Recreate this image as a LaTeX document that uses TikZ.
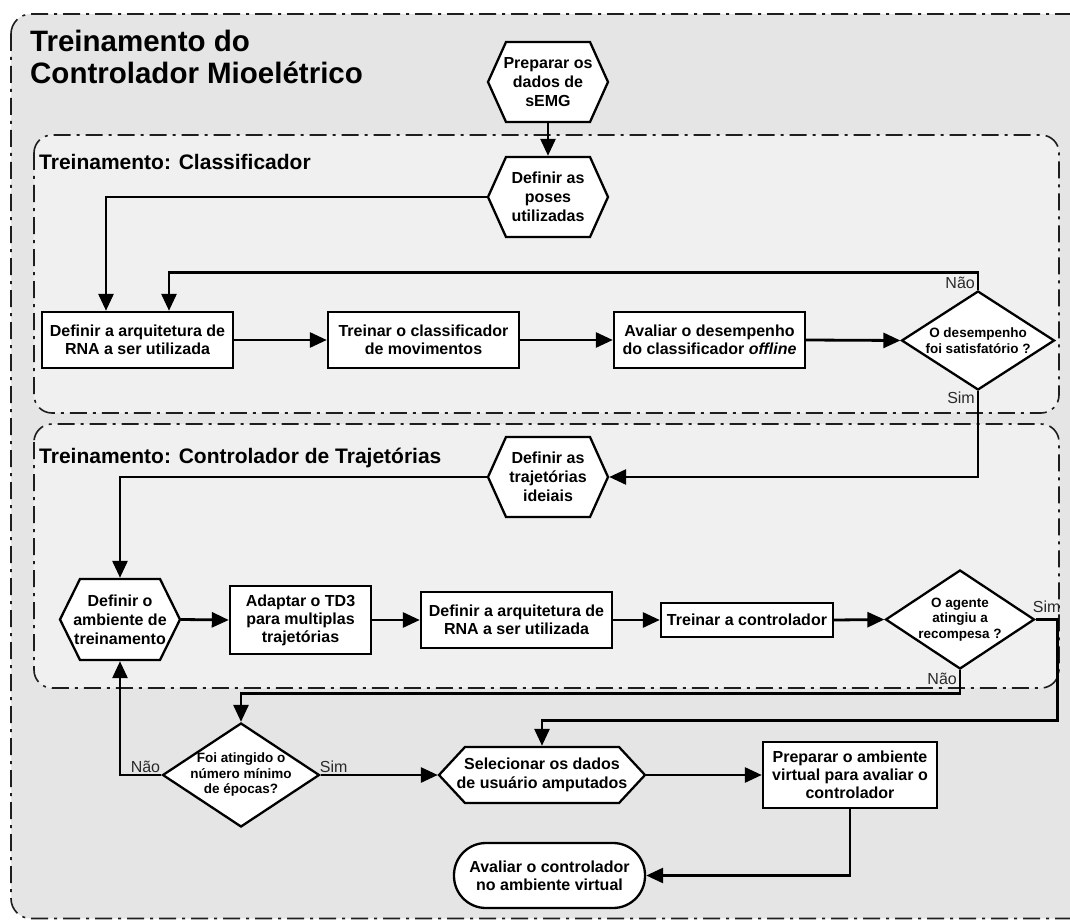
\documentclass[tikz,border=0pt]{standalone}
\usepackage{fontspec}
\setmainfont{Liberation Sans}
\usetikzlibrary{arrows.meta,shapes.geometric}

\definecolor{outerfill}{HTML}{E5E5E5}
\definecolor{innerfill}{HTML}{F0F0F0}
\definecolor{frameline}{HTML}{1E1E1E}
\definecolor{labelgray}{HTML}{2A2A2A}

% hexagonal step: name, centre x, centre y, half width, half height, slant, text
\newcommand\hexstep[7]{%
  \filldraw[hexline] ({#2-#4},{#3}) -- ({#2-#4+#6},{#3-#5}) -- ({#2+#4-#6},{#3-#5})
    -- ({#2+#4},{#3}) -- ({#2+#4-#6},{#3+#5}) -- ({#2-#4+#6},{#3+#5}) -- cycle;
  \node[hextext, minimum width={2*#4}, minimum height={2*#5}] (#1) at (#2,#3) {#7};%
}

\begin{document}
\begin{tikzpicture}[x=1pt,y=-1pt,
  section/.style={draw=frameline, line width=1.6pt,
    dash pattern=on 17pt off 6pt on 3pt off 6pt},
  stepbox/.style={draw=black, line width=2.3pt, fill=white, inner sep=0pt,
    outer sep=1.2pt, align=center, font=\fontsize{16}{18}\selectfont\bfseries},
  hexline/.style={draw=black, line width=2.3pt, fill=white, line join=miter},
  hextext/.style={inner sep=0pt, outer sep=1.2pt, align=center,
    font=\fontsize{16}{19}\selectfont\bfseries},
  decision/.style={shape=diamond, draw=black, line width=2.3pt, fill=white,
    inner sep=0pt, minimum width=153pt, minimum height=99pt},
  diatext/.style={align=center, inner sep=0pt,
    font=\fontsize{13.5}{15.5}\selectfont\bfseries},
  terminal/.style={stepbox, rounded corners=32pt},
  arr/.style={line width=2.8pt, -{Triangle[length=17pt,width=15pt]}},
  lbl/.style={inner sep=1pt, text=labelgray, font=\fontsize{16}{18}\selectfont},
  bigtitle/.style={inner sep=0pt, font=\fontsize{29.5}{32}\selectfont\bfseries},
  sectitle/.style={inner sep=0pt, font=\fontsize{21}{24}\selectfont\bfseries}]

\useasboundingbox (0,0) rectangle (1070,920);
\clip (0,0) rectangle (1070,920);
\fill[white] (0,0) rectangle (1070,920);

% group frames
\filldraw[section, fill=outerfill, rounded corners=20pt] (11,14) rectangle (1100,918.5);
\filldraw[section, fill=innerfill, rounded corners=18pt] (34,135) rectangle (1059,413);
\filldraw[section, fill=innerfill, rounded corners=18pt] (34,424) rectangle (1059,688);

% titles
\node[bigtitle, anchor=base west] (title1) at (30,52) {Treinamento do};
\node[bigtitle, anchor=base west] (title2) at (30,83.5) {Controlador Mioelétrico};
\node[sectitle, anchor=base west] (secA) at (39,170) {Treinamento: Classificador};
\node[sectitle, anchor=base west] (secB) at (39,463) {Treinamento: Controlador de Trajetórias};

% classifier stage
\hexstep{hexPrep}{548}{82}{60}{40}{18}{Preparar os\\dados de\\sEMG}
\hexstep{hexPoses}{548}{197}{60}{40}{18}{Definir as\\poses\\utilizadas}
\node[stepbox, minimum width=191pt, minimum height=56pt] (box1) at (137.5,340)
  {Definir a arquitetura de\\RNA a ser utilizada};
\node[stepbox, minimum width=191pt, minimum height=56pt] (box2) at (423.5,340)
  {Treinar o classificador\\de movimentos};
\node[stepbox, minimum width=191pt, minimum height=56pt] (box3) at (709.5,340)
  {Avaliar o desempenho\\do classificador \textit{offline}};
\node[decision, label={[diatext]center:{O desempenho\\foi satisfatório ?}}] (dia1) at (978,340.5) {};

% trajectory controller stage
\hexstep{hexTraj}{548}{477}{60}{40}{18}{Definir as\\trajetórias\\ideiais}
\hexstep{hexEnv}{120}{619.5}{60}{40.5}{20}{Definir o\\ambiente de\\treinamento}
\node[stepbox, minimum width=141pt, minimum height=68pt] (box4) at (300.5,620)
  {Adaptar o TD3\\para multiplas\\trajetórias};
\node[stepbox, minimum width=191pt, minimum height=56pt] (box5) at (516.5,620)
  {Definir a arquitetura de\\RNA a ser utilizada};
\node[stepbox, minimum width=172pt, minimum height=34pt] (box6) at (747,620)
  {Treinar a controlador};
\node[decision, minimum width=149pt, label={[diatext]center:{O agente\\atingiu a\\recompesa ?}}] (dia2) at (960,619.5) {};

% evaluation stage
\node[decision, minimum width=157pt, minimum height=104pt,
  label={[diatext]center:{Foi atingido o\\número mínimo\\de épocas?}}] (dia3) at (241,775) {};
\hexstep{hexUser}{542}{775}{103}{28}{26}{Selecionar os dados\\de usuário amputados}
\node[stepbox, minimum width=174pt, minimum height=66pt] (box7) at (850,775)
  {Preparar o ambiente\\virtual para avaliar o\\controlador};
\node[terminal, minimum width=191pt, minimum height=65pt] (term) at (549.5,875.5)
  {Avaliar o controlador\\no ambiente virtual};

% connectors
\draw[arr] (hexPrep.south) -- (hexPoses.north);
\draw[arr] (hexPoses.west) -| ([xshift=-31.5pt]box1.north);
\draw[arr] (box1.east) -- (box2.west);
\draw[arr] (box2.east) -- (box3.west);
\draw[arr] (box3.east) -- (dia1.west);
\draw[arr] (dia1.north) -- ++(0,-17.5) -| ([xshift=31.5pt]box1.north);
\draw[arr] (dia1.south) |- (hexTraj.east);
\draw[arr] (hexTraj.west) -| (hexEnv.north);
\draw[arr] (hexEnv.east) -- (box4.west);
\draw[arr] (box4.east) -- (box5.west);
\draw[arr] (box5.east) -- (box6.west);
\draw[arr] (box6.east) -- (dia2.west);
\draw[arr] (dia2.east) -- ++(22,0) |- ([yshift=25pt]hexUser.north) -- (hexUser.north);
\draw[arr] (dia2.south) |- ([yshift=28pt]dia3.north) -- (dia3.north);
\draw[arr] (dia3.west) -| (hexEnv.south);
\draw[arr] (dia3.east) -- (hexUser.west);
\draw[arr] (hexUser.east) -- (box7.west);
\draw[arr] (box7.south) |- (term.east);

% branch labels
\node[lbl, anchor=south east] (noA) at ([xshift=-2pt]dia1.north) {Não};
\node[lbl, anchor=north east] (yesA) at ([xshift=-2pt]dia1.south) {Sim};
\node[lbl, anchor=south west] (yesB) at ([xshift=-4pt,yshift=6pt]dia2.east) {Sim};
\node[lbl, anchor=north east] (noB) at ([xshift=-2pt,yshift=-2pt]dia2.south) {Não};
\node[lbl, anchor=south east] (noC) at ([yshift=1pt]dia3.west) {Não};
\node[lbl, anchor=south west] (yesC) at ([xshift=-2pt,yshift=1pt]dia3.east) {Sim};
\end{tikzpicture}
\end{document}
